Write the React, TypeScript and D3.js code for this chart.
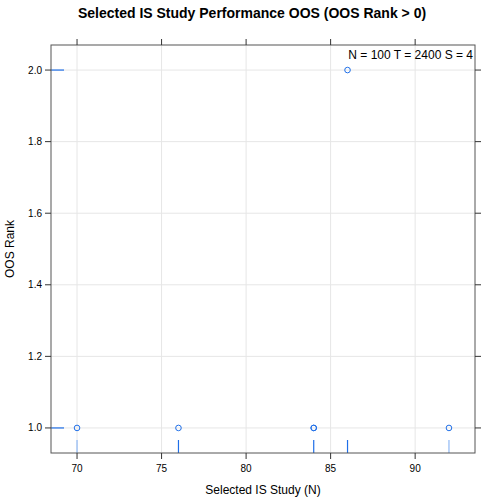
import * as d3 from "d3";

const xs = [70, 76, 84, 84, 86, 92];
const ys = [1, 1, 1, 1, 2, 1];
const rugX = [70, 76, 84, 86, 92];
const rugXColor = ["#8fb8f5", "#1f6fe8", "#1f6fe8", "#1f6fe8", "#8fb8f5"];
const rugY = [1, 2];
const xTicks = [70, 75, 80, 85, 90];
const yTicks = [1.0, 1.2, 1.4, 1.6, 1.8, 2.0];

const W = 504, H = 504;
const L = 51, R = 475, T = 45, B = 453;

export default function App() {
  const x = d3.scaleLinear().domain([68.46, 93.54]).range([L, R]);
  const y = d3.scaleLinear().domain([0.93, 2.07]).range([B, T]);
  const font = "Helvetica, Arial, 'Liberation Sans', sans-serif";
  return (
    <svg width={W} height={H} style={{ position: "absolute", left: 0, top: 0, fontFamily: font }}>
      <rect width={W} height={H} fill="white" />
      <text x={W / 2} y={18} textAnchor="middle" fontSize={14} fontWeight="bold">
        Selected IS Study Performance OOS (OOS Rank &gt; 0)
      </text>
      <g stroke="#e6e6e6">
        {xTicks.map((t) => <line key={t} x1={x(t)} x2={x(t)} y1={T} y2={B} />)}
        {yTicks.map((t) => <line key={t} x1={L} x2={R} y1={y(t)} y2={y(t)} />)}
      </g>
      {rugX.map((v, i) => (
        <line key={i} x1={x(v)} x2={x(v)} y1={B - 13} y2={B} stroke={rugXColor[i]} strokeWidth={1.2} />
      ))}
      {rugY.map((v) => (
        <line key={v} x1={L} x2={L + 13} y1={y(v)} y2={y(v)} stroke="#1f6fe8" strokeWidth={1.2} />
      ))}
      {xs.map((v, i) => (
        <circle key={i} cx={x(v)} cy={y(ys[i])} r={2.8} fill="none" stroke="#1f6fe8" strokeWidth={1} />
      ))}
      <rect x={L} y={T} width={R - L} height={B - T} fill="none" stroke="#555" />
      <g stroke="#333">
        {xTicks.map((t) => (
          <g key={t}>
            <line x1={x(t)} x2={x(t)} y1={B} y2={B + 6} />
            <line x1={x(t)} x2={x(t)} y1={T} y2={T - 6} />
          </g>
        ))}
        {yTicks.map((t) => (
          <g key={t}>
            <line x1={L} x2={L - 6} y1={y(t)} y2={y(t)} />
            <line x1={R} x2={R + 6} y1={y(t)} y2={y(t)} />
          </g>
        ))}
      </g>
      <g fontSize={10} fill="#000">
        {xTicks.map((t) => (
          <text key={t} x={x(t)} y={B + 19} textAnchor="middle">{t}</text>
        ))}
        {yTicks.map((t) => (
          <text key={t} x={L - 9} y={y(t)} dy="0.35em" textAnchor="end">{t.toFixed(1)}</text>
        ))}
      </g>
      <text x={473} y={59} textAnchor="end" fontSize={12}>N = 100  T = 2400  S = 4</text>
      <text x={(L + R) / 2} y={494} textAnchor="middle" fontSize={12}>Selected IS Study (N)</text>
      <text transform={`translate(14,${(T + B) / 2}) rotate(-90)`} textAnchor="middle" fontSize={12}>OOS Rank</text>
    </svg>
  );
}
